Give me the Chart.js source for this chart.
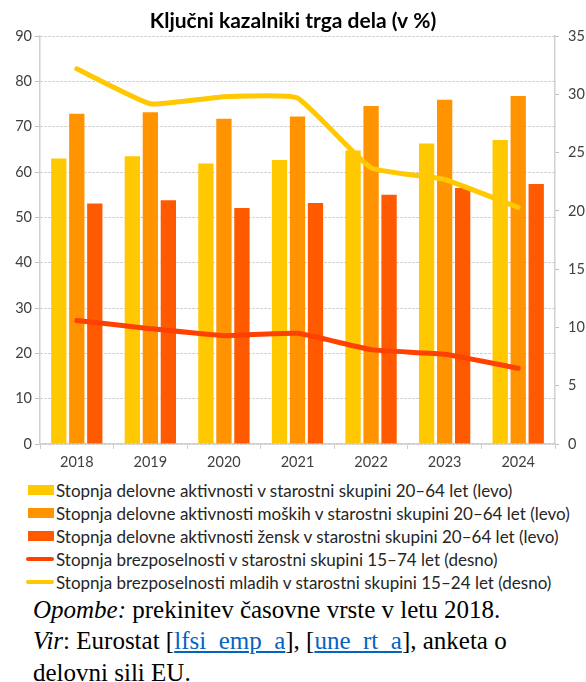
<!DOCTYPE html>
<html>
<head>
<meta charset="utf-8">
<script src="https://cdn.jsdelivr.net/npm/chart.js@4.4.1/dist/chart.umd.min.js"></script>
<style>
    body { margin: 0; background: #fff; width: 586px; height: 682px; overflow: hidden; }
    #chart { display: block; }
    #legend { font-family: Lato, sans-serif; font-size: 17px; color: #262626; margin-top: 0.5px; }
    .row { display: flex; align-items: center; height: 23px; white-space: nowrap; }
    .mark { display: inline-block; flex: none; }
    #note { font-family: "Liberation Serif", serif; font-size: 25px; line-height: 31.5px; color: #000; padding-left: 33px; white-space: nowrap; }
    #note a { color: #0563c1; text-decoration: underline; }
</style>
</head>
<body>
<canvas id="chart" width="586" height="478"></canvas>
<div id="legend"></div>
<div id="note">
    <i>Opombe:</i> prekinitev časovne vrste v letu 2018.<br>
    <i>Vir</i>: Eurostat [<a href="#">lfsi_emp_a</a>], [<a href="#">une_rt_a</a>], anketa o<br>
    delovni sili EU.
</div>
<script>
// podatki
const years = ['2018', '2019', '2020', '2021', '2022', '2023', '2024'];
const employment = [63.0, 63.5, 61.9, 62.7, 64.8, 66.3, 67.1];
const employmentMen = [72.9, 73.2, 71.8, 72.3, 74.6, 76.0, 76.8];
const employmentWomen = [53.1, 53.8, 52.1, 53.2, 55.0, 56.5, 57.4];
const unemployment = [10.6, 9.9, 9.3, 9.5, 8.1, 7.7, 6.5];
const youthUnemployment = [32.2, 29.2, 29.8, 29.7, 23.7, 22.7, 20.3];

const leftTicks = [0, 90, 10];
const rightTicks = [0, 35, 5];

const seriesLabels = [
    'Stopnja delovne aktivnosti v starostni skupini 20\u201364 let (levo)',
    'Stopnja delovne aktivnosti moških v starostni skupini 20\u201364 let (levo)',
    'Stopnja delovne aktivnosti žensk v starostni skupini 20\u201364 let (levo)',
    'Stopnja brezposelnosti v starostni skupini 15\u201374 let (desno)',
    'Stopnja brezposelnosti mladih v starostni skupini 15\u201324 let (desno)'
];

const tickFont = { family: 'Lato', size: 14.5 };
const gridColor = '#bfbfbf';
const axisColor = '#d0d0d0';

function bar(label, data, color) {
    return {
        type: 'bar', label: label, data: data, yAxisID: 'y',
        backgroundColor: color, borderWidth: 0,
        categoryPercentage: 0.734, barPercentage: 0.85, order: 2
    };
}

function line(label, data, color) {
    return {
        type: 'line', label: label, data: data, yAxisID: 'y1',
        borderColor: color, backgroundColor: color, borderWidth: 5,
        pointRadius: 0, tension: 0.12, borderCapStyle: 'round', borderJoinStyle: 'round',
        order: 1
    };
}

const datasets = [
    bar(seriesLabels[0], employment, '#ffc800'),
    bar(seriesLabels[1], employmentMen, '#ff9300'),
    bar(seriesLabels[2], employmentWomen, '#ff5a00'),
    line(seriesLabels[3], unemployment, '#ff4100'),
    line(seriesLabels[4], youthUnemployment, '#ffc800')
];

const chart = new Chart(document.getElementById('chart'), {
    data: { labels: years, datasets: datasets },
    options: {
        responsive: false,
        animation: false,
        devicePixelRatio: 1,
        layout: { padding: 0 },
        plugins: {
            legend: { display: false },
            tooltip: { enabled: false },
            title: {
                display: true,
                text: 'Ključni kazalniki trga dela (v %)',
                color: '#000',
                font: { family: 'Lato', size: 21, weight: 'bold' },
                padding: { top: 9, bottom: 2 }
            }
        },
        scales: {
            x: {
                grid: { display: true, drawOnChartArea: false, offset: true, tickLength: 5, color: axisColor },
                border: { display: true, color: axisColor, width: 1.5 },
                ticks: { font: tickFont, color: '#404040', padding: 5 },
                afterFit: (scale) => { scale.height = 34; }
            },
            y: {
                position: 'left',
                min: leftTicks[0], max: leftTicks[1],
                ticks: { stepSize: leftTicks[2], font: tickFont, color: '#404040', padding: 3 },
                grid: { color: gridColor, tickLength: 5, tickColor: gridColor, lineWidth: 1 },
                border: { display: true, color: axisColor, width: 1.5, dash: [2, 2] },
                afterFit: (scale) => { scale.width = 40; }
            },
            y1: {
                position: 'right',
                min: rightTicks[0], max: rightTicks[1],
                ticks: { stepSize: rightTicks[2], font: tickFont, color: '#404040', padding: 9 },
                grid: { drawOnChartArea: false, tickLength: 4, tickColor: gridColor },
                border: { display: true, color: axisColor, width: 1.5 },
                afterFit: (scale) => { scale.width = 31; }
            }
        }
    }
});

// legenda
const legend = document.getElementById('legend');
chart.data.datasets.forEach((ds) => {
    const row = document.createElement('div');
    row.className = 'row';
    const mark = document.createElement('span');
    mark.className = 'mark';
    if (ds.type === 'bar') {
        mark.style.cssText = 'width:26px;height:10px;margin-left:28px;margin-right:2px;background:' + ds.backgroundColor;
    } else {
        mark.style.cssText = 'width:28px;height:4px;border-radius:2px;margin-left:26px;margin-right:2px;background:' + ds.borderColor;
    }
    const text = document.createElement('span');
    text.textContent = ds.label;
    row.appendChild(mark);
    row.appendChild(text);
    legend.appendChild(row);
});
</script>
</body>
</html>
